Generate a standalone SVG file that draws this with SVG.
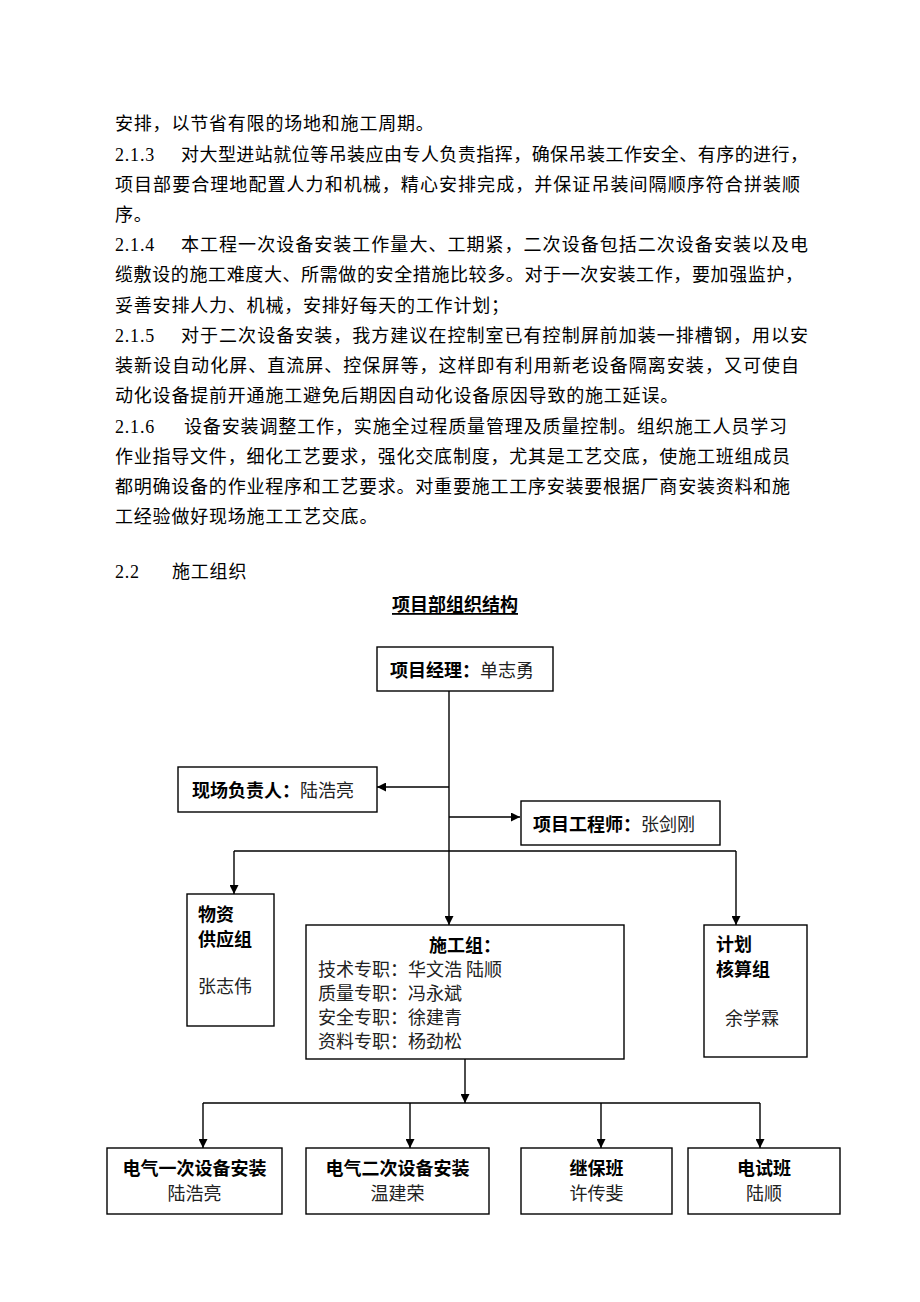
<svg xmlns="http://www.w3.org/2000/svg" width="920" height="1302" viewBox="0 0 920 1302">
<style>
.body{font-family:"Liberation Serif","Noto Sans CJK SC",serif;font-size:18px;fill:#000;letter-spacing:0.8px;dominant-baseline:central}
.full{letter-spacing:0}
.bx{font-family:"Noto Sans CJK SC",sans-serif;font-size:18px;fill:#000;dominant-baseline:central}
.b{font-weight:bold}
.n{font-weight:normal;fill:#222}
.box{fill:#fff;stroke:#000;stroke-width:1.4}
.ln{fill:none;stroke:#000;stroke-width:1.4}
.ttl{font-family:"Noto Sans CJK SC",sans-serif;font-size:18px;font-weight:bold;fill:#000;text-decoration:underline;dominant-baseline:central}
</style>
<defs>
<marker id="ah" viewBox="0 0 10 10" refX="10" refY="5" markerWidth="9" markerHeight="9" markerUnits="userSpaceOnUse" orient="auto">
<path d="M0,0 L10,5 L0,10 z" fill="#000"/>
</marker>
</defs>
<rect width="920" height="1302" fill="#fff"/>
<g id="bodytext">
<text class="body" x="115" y="124">安排，以节省有限的场地和施工周期。</text>
<text class="body" x="115" y="154.5">2.1.3</text>
<text class="body full" x="181" y="154.5" textLength="627">对大型进站就位等吊装应由专人负责指挥，确保吊装工作安全、有序的进行，</text>
<text class="body full" x="115" y="184.5" textLength="685">项目部要合理地配置人力和机械，精心安排完成，并保证吊装间隔顺序符合拼装顺</text>
<text class="body" x="115" y="215">序。</text>
<text class="body" x="115" y="245">2.1.4</text>
<text class="body full" x="181" y="245" textLength="627">本工程一次设备安装工作量大、工期紧，二次设备包括二次设备安装以及电</text>
<text class="body full" x="115" y="275" textLength="688">缆敷设的施工难度大、所需做的安全措施比较多。对于一次安装工作，要加强监护，</text>
<text class="body" x="115" y="305.5">妥善安排人力、机械，安排好每天的工作计划；</text>
<text class="body" x="115" y="336">2.1.5</text>
<text class="body full" x="181" y="336" textLength="627">对于二次设备安装，我方建议在控制室已有控制屏前加装一排槽钢，用以安</text>
<text class="body full" x="115" y="366" textLength="684">装新设自动化屏、直流屏、控保屏等，这样即有利用新老设备隔离安装，又可使自</text>
<text class="body" x="115" y="396">动化设备提前开通施工避免后期因自动化设备原因导致的施工延误。</text>
<text class="body" x="115" y="426.5">2.1.6</text>
<text class="body full" x="184" y="426.5" textLength="603">设备安装调整工作，实施全过程质量管理及质量控制。组织施工人员学习</text>
<text class="body full" x="115" y="457" textLength="675">作业指导文件，细化工艺要求，强化交底制度，尤其是工艺交底，使施工班组成员</text>
<text class="body full" x="115" y="487" textLength="675">都明确设备的作业程序和工艺要求。对重要施工工序安装要根据厂商安装资料和施</text>
<text class="body" x="115" y="517">工经验做好现场施工工艺交底。</text>
<text class="body" x="115" y="572">2.2</text>
<text class="body" x="172" y="572">施工组织</text>
<text class="ttl" x="455" y="603" text-anchor="middle">项目部组织结构</text>
</g>
<g id="connectors">
<path class="ln" d="M449,691 V925" marker-end="url(#ah)"/>
<path class="ln" d="M449,787 H377" marker-end="url(#ah)"/>
<path class="ln" d="M449,817 H520" marker-end="url(#ah)"/>
<path class="ln" d="M234,851 H736"/>
<path class="ln" d="M234,851 V894" marker-end="url(#ah)"/>
<path class="ln" d="M736,851 V925" marker-end="url(#ah)"/>
<path class="ln" d="M465,1059 V1103" marker-end="url(#ah)"/>
<path class="ln" d="M203,1103 H760"/>
<path class="ln" d="M203,1103 V1148" marker-end="url(#ah)"/>
<path class="ln" d="M410,1103 V1148" marker-end="url(#ah)"/>
<path class="ln" d="M601,1103 V1148" marker-end="url(#ah)"/>
<path class="ln" d="M760,1103 V1148" marker-end="url(#ah)"/>
</g>
<g id="pm">
<rect class="box" x="377" y="647" width="176" height="44"/>
<text class="bx" x="390" y="669"><tspan class="b">项目经理：</tspan><tspan class="n">单志勇</tspan></text>
</g>
<g id="site">
<rect class="box" x="178" y="767" width="199" height="45"/>
<text class="bx" x="192" y="789"><tspan class="b">现场负责人：</tspan><tspan class="n">陆浩亮</tspan></text>
</g>
<g id="engineer">
<rect class="box" x="521" y="801" width="199" height="44"/>
<text class="bx" x="533" y="823"><tspan class="b">项目工程师：</tspan><tspan class="n">张剑刚</tspan></text>
</g>
<g id="material">
<rect class="box" x="187" y="894" width="87" height="132"/>
<text class="bx b" x="198" y="913">物资</text>
<text class="bx b" x="198" y="938">供应组</text>
<text class="bx n" x="198" y="985">张志伟</text>
</g>
<g id="construction">
<rect class="box" x="306" y="925" width="318" height="134"/>
<text class="bx b" x="465" y="944" text-anchor="middle">施工组：</text>
<text class="bx n" x="318" y="968">技术专职：华文浩 陆顺</text>
<text class="bx n" x="318" y="992">质量专职：冯永斌</text>
<text class="bx n" x="318" y="1016">安全专职：徐建青</text>
<text class="bx n" x="318" y="1040">资料专职：杨劲松</text>
</g>
<g id="plan">
<rect class="box" x="704" y="925" width="103" height="132"/>
<text class="bx b" x="716" y="943">计划</text>
<text class="bx b" x="716" y="968">核算组</text>
<text class="bx n" x="725" y="1017">余学霖</text>
</g>
<g id="team1">
<rect class="box" x="107" y="1148" width="175" height="66"/>
<text class="bx b" x="194.5" y="1167" text-anchor="middle">电气一次设备安装</text>
<text class="bx n" x="194.5" y="1192" text-anchor="middle">陆浩亮</text>
</g>
<g id="team2">
<rect class="box" x="306" y="1148" width="183" height="66"/>
<text class="bx b" x="397.5" y="1167" text-anchor="middle">电气二次设备安装</text>
<text class="bx n" x="397.5" y="1192" text-anchor="middle">温建荣</text>
</g>
<g id="team3">
<rect class="box" x="521" y="1148" width="151" height="66"/>
<text class="bx b" x="596.5" y="1167" text-anchor="middle">继保班</text>
<text class="bx n" x="596.5" y="1192" text-anchor="middle">许传斐</text>
</g>
<g id="team4">
<rect class="box" x="688" y="1148" width="152" height="66"/>
<text class="bx b" x="764" y="1167" text-anchor="middle">电试班</text>
<text class="bx n" x="764" y="1192" text-anchor="middle">陆顺</text>
</g>
</svg>
